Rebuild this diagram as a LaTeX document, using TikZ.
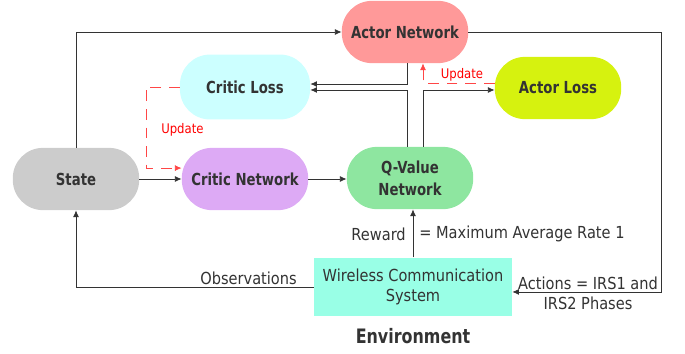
\documentclass[tikz,border=0pt]{standalone}
\usepackage{fontspec}
\setmainfont{DejaVu Sans}[FakeStretch=0.88, BoldFeatures={FakeStretch=0.8}]
\usetikzlibrary{arrows.meta}

\definecolor{actorcol}{RGB}{255,153,153}
\definecolor{closscol}{RGB}{204,255,255}
\definecolor{aloscol}{RGB}{214,242,15}
\definecolor{statecol}{RGB}{204,204,204}
\definecolor{criticcol}{RGB}{221,170,245}
\definecolor{qcol}{RGB}{142,230,160}
\definecolor{wcscol}{RGB}{153,255,230}
\definecolor{txtgray}{RGB}{51,51,51}
\definecolor{updred}{RGB}{255,70,70}

\tikzset{
  block/.style={rectangle, rounded corners=0.8cm, minimum width=3.35cm,
    minimum height=1.65cm, inner sep=0pt, text=txtgray,
    font=\fontsize{12.5}{16.5}\selectfont\bfseries},
  lbl/.style={inner sep=0pt, text=txtgray, font=\fontsize{12.5}{15}\selectfont},
  updtxt/.style={inner sep=0pt, text=red, font=\fontsize{10}{12}\selectfont},
  arr/.style={draw=black!80, line width=0.6pt, -{Latex[length=5pt,width=4.5pt]}},
  upd/.style={draw=updred, line width=0.6pt, dash pattern=on 8pt off 6pt,
    -{Latex[length=5pt,width=4.5pt]}},
}

\begin{document}
\begin{tikzpicture}[x=0.0265cm, y=-0.0265cm]
  \useasboundingbox (0,0) rectangle (685,353);

  \node[block, fill=actorcol] (actor) at (405,32) {Actor Network};
  \node[block, fill=closscol, minimum width=3.45cm, minimum height=1.72cm] (closs) at (245,87) {Critic Loss};
  \node[block, fill=aloscol] (aloss) at (558,88) {Actor Loss};
  \node[block, fill=statecol] (state) at (76,179) {State};
  \node[block, fill=criticcol] (critic) at (245,179) {Critic Network};
  \node[block, fill=qcol, align=center] (qval) at (410,178) {Q-Value\\Network};
  \node[lbl, fill=wcscol, minimum width=5.25cm, minimum height=1.56cm, align=center] (wcs) at (413,287)
    {Wireless Communication\\System};
  \node[text=txtgray, font=\fontsize{15}{17}\selectfont\bfseries] (env) at (413,336) {Environment};

  \coordinate (lane1) at (407,0);
  \coordinate (lane2) at (423,0);
  \coordinate (rlane) at (661,0);
  \coordinate (cupd) at (146,0);
  \coordinate (cin) at ([yshift=8.25pt]critic.west);
  \coordinate (aout) at ([yshift=-3.75pt]wcs.east);

  \draw[arr] (state.north) |- (actor.west);
  \draw[arr] (state) -- (critic);
  \draw[arr] (critic.east) -- (critic.east -| qval.west);
  \draw[arr] (actor.south -| lane1) |- ([yshift=2.25pt]closs.east);
  \draw[arr] (qval.north -| lane1) |- ([yshift=-2.25pt]closs.east);
  \draw[arr] (qval.north -| lane2) |- ([yshift=-1.5pt]aloss.west);

  \draw[upd] ([yshift=3.75pt]aloss.west) -| (actor.south -| lane2);
  \node[updtxt] (aupd) at (462,75) {Update};
  \draw[upd] (closs.west) -| (cupd |- cin) -- (cin);
  \node[updtxt, anchor=west] (cupdl) at (161,130) {Update};

  \draw[arr] (actor.east) -| (rlane |- aout) -- (aout);
  \node[lbl, align=center] (act) at (588,293) {Actions = IRS1 and\\IRS2 Phases};

  \draw[arr] (wcs.north) -- (wcs.north |- qval.south);
  \node[lbl, anchor=east] (rew) at (406,234) {Reward};
  \node[lbl, anchor=west] (rate) at (419,234) {= Maximum Average Rate 1};

  \draw[arr] (wcs.west) -| (state.south);
  \node[lbl, anchor=east] (obs) at (297,278) {Observations};
\end{tikzpicture}
\end{document}
